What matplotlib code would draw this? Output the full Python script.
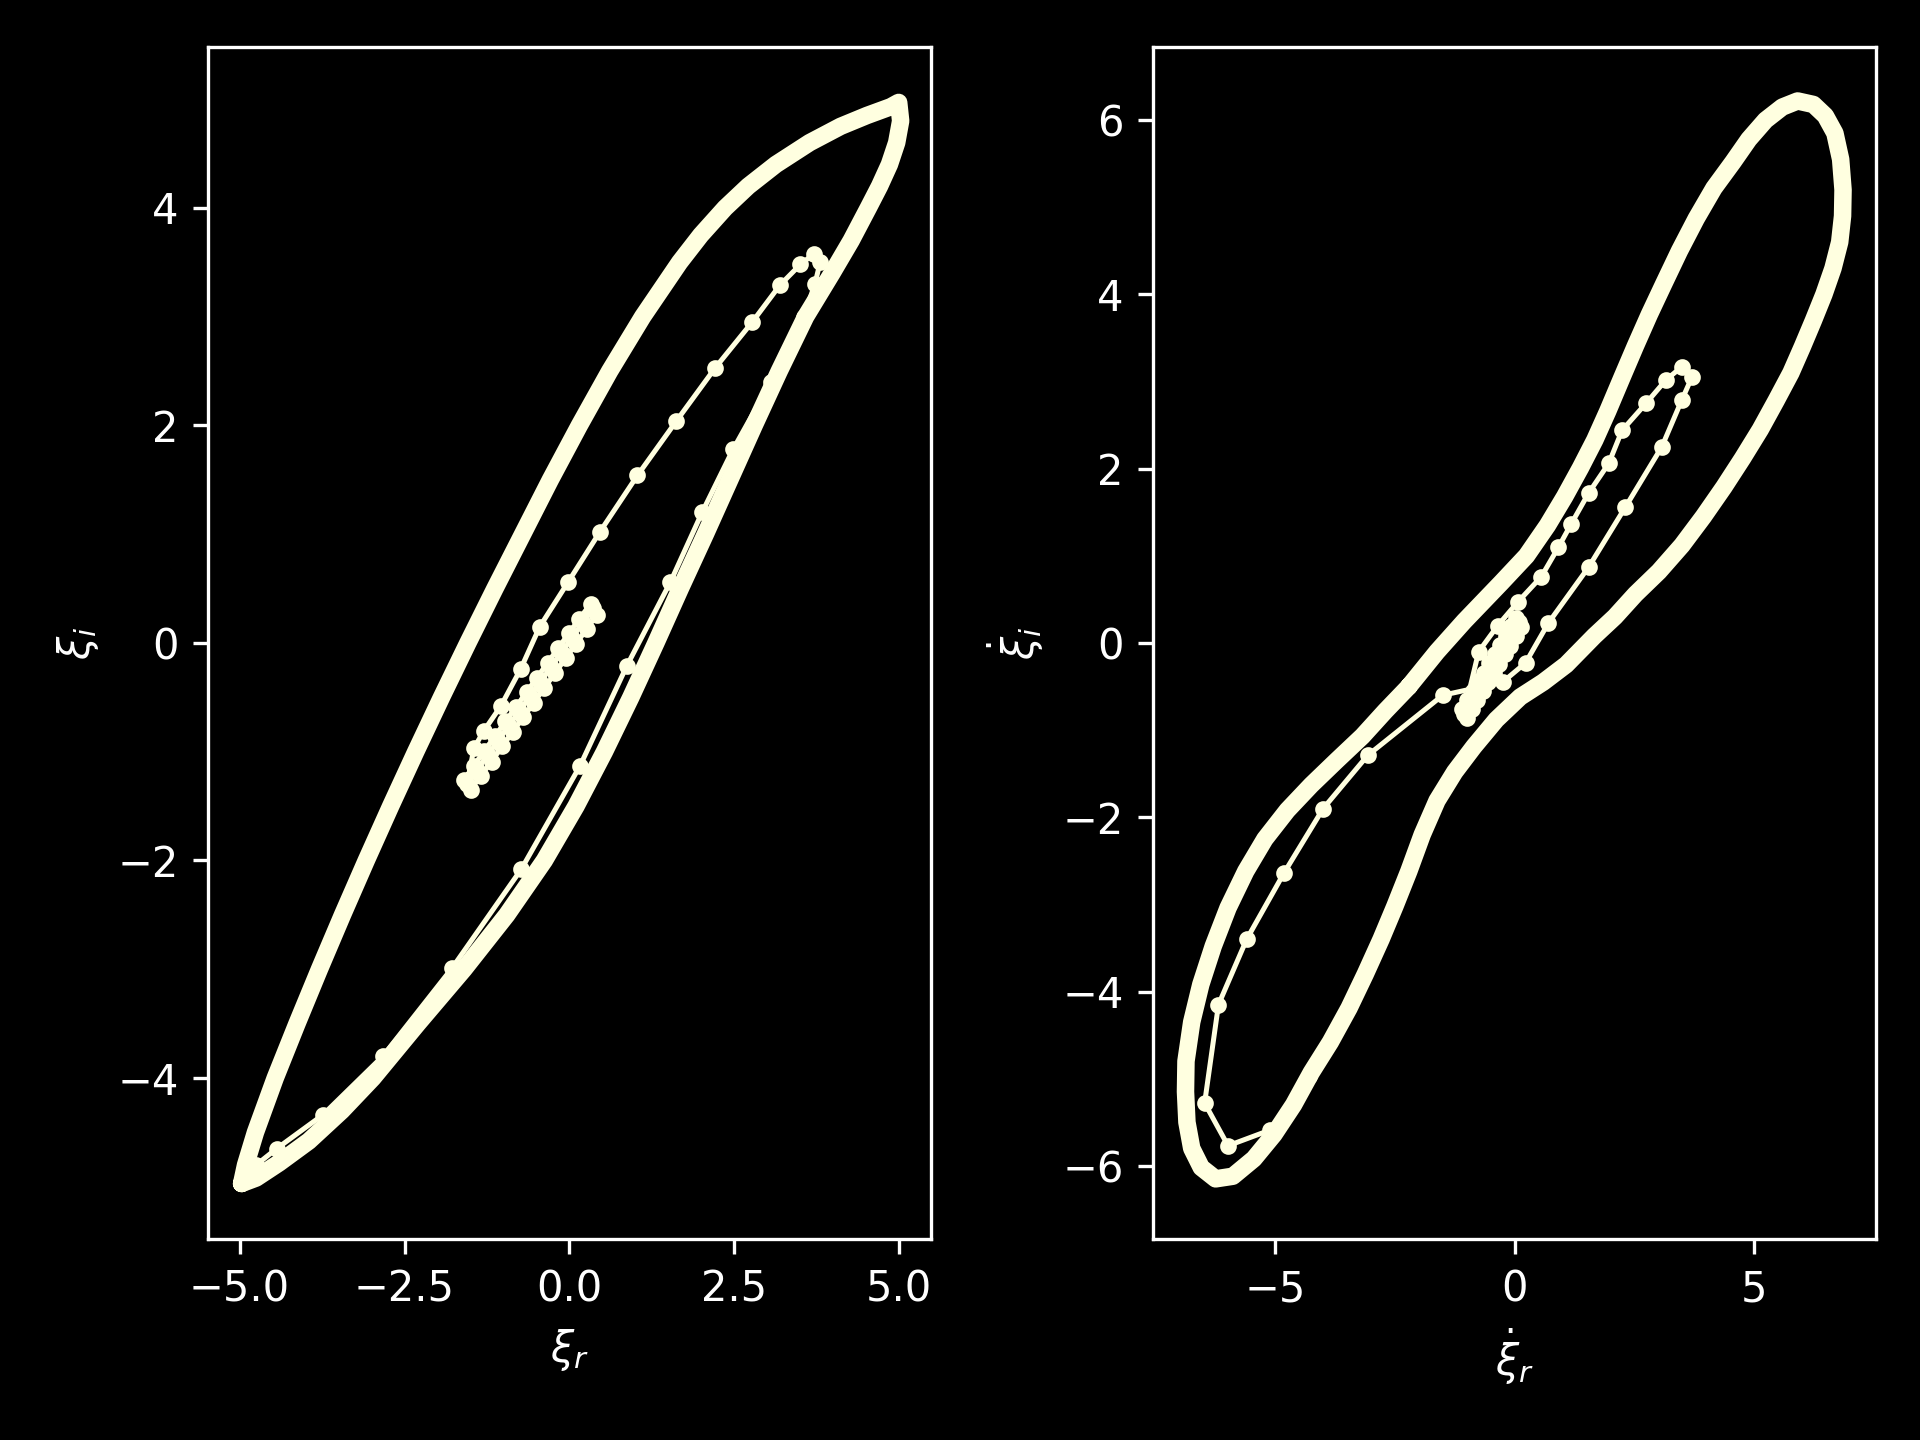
import matplotlib
matplotlib.use("Agg")
import matplotlib.pyplot as plt

plt.style.use("dark_background")

LINE_COLOR = "lightyellow"

# ---- left panel: xi_r vs xi_i ----
# slow start: thin blob of small oscillations (three passes along it)
blob_a_r = [0.42, 0.26, 0.10, -0.06, -0.22, -0.38, -0.54, -0.70, -0.86, -1.02, -1.18, -1.34, -1.50]
blob_a_i = [0.26, 0.13, -0.01, -0.14, -0.28, -0.41, -0.55, -0.68, -0.82, -0.95, -1.09, -1.22, -1.35]
blob_b_r = [-1.60, -1.45, -1.29, -1.13, -0.97, -0.81, -0.65, -0.49, -0.33, -0.17, -0.01, 0.15, 0.32]
blob_b_i = [-1.26, -1.13, -0.99, -0.86, -0.72, -0.59, -0.45, -0.32, -0.18, -0.05, 0.09, 0.22, 0.36]
blob_c_r = [0.36, 0.20, 0.04, -0.12, -0.28, -0.44, -0.60, -0.76, -0.92, -1.08, -1.24, -1.40, -1.55]
blob_c_i = [0.32, 0.18, 0.05, -0.09, -0.22, -0.36, -0.49, -0.63, -0.76, -0.90, -1.03, -1.17, -1.30]

# first big swing out of the blob
swing_r = [-1.45, -1.30, -1.04, -0.74, -0.45, -0.02, 0.46, 1.03, 1.62, 2.21, 2.77,
           3.19, 3.50, 3.71, 3.80, 3.72, 3.55, 3.05, 2.48, 2.01, 1.53, 0.87, 0.16, -0.73,
           -1.78, -2.83, -3.74, -4.44, -4.75, -4.95]
swing_i = [-0.97, -0.81, -0.58, -0.24, 0.15, 0.56, 1.02, 1.54, 2.04, 2.53, 2.95,
           3.29, 3.48, 3.58, 3.50, 3.30, 3.00, 2.40, 1.78, 1.20, 0.56, -0.21, -1.13, -2.08,
           -2.99, -3.80, -4.34, -4.65, -4.80, -4.95]

# settled limit cycle (up the left side, down the right side)
cycle_r = [-4.97, -4.91, -4.76, -4.46, -4.13, -3.79, -3.44, -3.08, -2.71, -2.33, -1.94, -1.54,
           -1.13, -0.71, -0.29, 0.15, 0.61, 1.11, 1.67, 1.99, 2.36, 2.71, 3.13, 3.64, 4.11,
           4.51, 4.87, 4.99,
           5.02, 4.96, 4.85, 4.70, 4.53, 4.27, 3.98, 3.58, 3.18, 2.80, 2.43, 2.06, 1.68, 1.31,
           0.93, 0.53, 0.10, -0.38, -0.95, -1.60, -2.30, -2.98, -3.45, -3.95, -4.40, -4.75, -4.97]
cycle_i = [-4.97, -4.80, -4.50, -4.00, -3.50, -3.00, -2.50, -2.00, -1.50, -1.00, -0.50, 0.00,
           0.50, 1.00, 1.50, 2.00, 2.50, 3.00, 3.50, 3.75, 4.00, 4.20, 4.40, 4.60, 4.75,
           4.85, 4.93, 4.97,
           4.80, 4.60, 4.40, 4.20, 4.00, 3.70, 3.40, 3.00, 2.50, 2.00, 1.50, 1.00, 0.50, 0.00,
           -0.50, -1.00, -1.50, -2.00, -2.50, -3.00, -3.50, -4.00, -4.30, -4.58, -4.78, -4.92, -4.97]

# ---- right panel: d/dt xi_r vs d/dt xi_i ----
dblob_a_r = [0.14, 0.03, -0.09, -0.20, -0.32, -0.43, -0.55, -0.66, -0.78, -0.89, -1.00]
dblob_a_i = [0.18, 0.08, -0.03, -0.13, -0.24, -0.34, -0.45, -0.55, -0.66, -0.76, -0.86]
dblob_b_r = [-1.10, -0.99, -0.87, -0.76, -0.64, -0.53, -0.41, -0.30, -0.18, -0.07, 0.04]
dblob_b_i = [-0.76, -0.65, -0.55, -0.44, -0.34, -0.23, -0.13, -0.02, 0.08, 0.19, 0.29]
dblob_c_r = [0.09, -0.02, -0.14, -0.25, -0.37, -0.48, -0.60, -0.71, -0.83, -0.94, -1.06]
dblob_c_i = [0.24, 0.13, 0.03, -0.08, -0.18, -0.29, -0.39, -0.50, -0.60, -0.71, -0.81]

dswing_r = [-0.75, -0.35, 0.07, 0.56, 0.92, 1.19, 1.55, 1.97, 2.25, 2.75, 3.17, 3.50, 3.71,
            3.50, 3.08, 2.32, 1.55, 0.71, 0.23, -0.25, -1.50, -3.07, -4.00, -4.82, -5.60,
            -6.19, -6.48, -5.99, -5.11, -4.30]
dswing_i = [-0.10, 0.20, 0.47, 0.76, 1.10, 1.37, 1.72, 2.06, 2.44, 2.75, 3.02, 3.17, 3.05,
            2.79, 2.25, 1.56, 0.87, 0.23, -0.23, -0.45, -0.60, -1.29, -1.90, -2.64, -3.40,
            -4.15, -5.28, -5.77, -5.59, -4.97]

dcycle_r = [-2.21, -1.62, -1.05, -0.28, 0.25, 0.69, 1.05, 1.38, 1.68, 1.95, 2.25, 2.53, 2.82,
            3.12, 3.45, 3.80, 4.17, 4.57, 4.90, 5.25, 5.60, 5.92, 6.25, 6.50, 6.70, 6.82, 6.87,
            6.86, 6.80, 6.66, 6.47, 6.25, 6.02, 5.78, 5.47, 5.14, 4.77, 4.38, 3.95, 3.50, 3.02,
            2.53, 2.10, 1.67, 1.08, 0.60, 0.12, -0.38, -0.85, -1.25, -1.62, -1.93, -2.21, -2.50,
            -2.79, -3.12, -3.46, -3.85, -4.25, -4.62, -5.03, -5.45, -5.89, -6.25, -6.55, -6.75,
            -6.85, -6.88, -6.87, -6.75, -6.56, -6.30, -5.99, -5.62, -5.22, -4.75, -4.25, -3.72,
            -3.18, -2.70, -2.21]
dcycle_i = [-0.50, -0.10, 0.25, 0.69, 1.00, 1.35, 1.68, 2.01, 2.33, 2.66, 3.05, 3.41, 3.77,
            4.12, 4.50, 4.87, 5.22, 5.52, 5.78, 6.00, 6.15, 6.22, 6.18, 6.05, 5.85, 5.55, 5.20,
            4.90, 4.60, 4.30, 4.00, 3.70, 3.40, 3.10, 2.78, 2.45, 2.12, 1.79, 1.45, 1.12, 0.82,
            0.56, 0.30, 0.08, -0.25, -0.45, -0.62, -0.88, -1.19, -1.48, -1.81, -2.20, -2.62, -3.02,
            -3.40, -3.80, -4.19, -4.58, -4.93, -5.30, -5.64, -5.92, -6.12, -6.15, -6.02, -5.80,
            -5.50, -5.15, -4.80, -4.35, -3.92, -3.48, -3.04, -2.62, -2.25, -1.92, -1.63, -1.35,
            -1.07, -0.78, -0.50]

fig, (ax1, ax2) = plt.subplots(1, 2, figsize=(6.4, 4.8), dpi=300)
fig.subplots_adjust(left=0.1083, right=0.9771, bottom=0.1396, top=0.9674, wspace=0.307)

panels = [
    (ax1, cycle_r, cycle_i,
     blob_a_r + blob_b_r + blob_c_r + swing_r,
     blob_a_i + blob_b_i + blob_c_i + swing_i,
     r"$\xi_r$", r"$\xi_i$", (-5.48, 5.48), (-5.48, 5.48)),
    (ax2, dcycle_r, dcycle_i,
     dblob_a_r + dblob_b_r + dblob_c_r + dswing_r,
     dblob_a_i + dblob_b_i + dblob_c_i + dswing_i,
     r"$\dot{\xi}_r$", r"$\dot{\xi}_i$", (-7.56, 7.56), (-6.84, 6.84)),
]

for ax, cx, cy, tx, ty, xl, yl, xlim, ylim in panels:
    ax.plot(cx, cy, "-", color=LINE_COLOR, lw=4.2,
            solid_joinstyle="round", solid_capstyle="round")
    ax.plot(tx, ty, ".-", color=LINE_COLOR, lw=1.2)
    ax.set_xlabel(xl)
    ax.set_ylabel(yl)
    ax.set_xlim(*xlim)
    ax.set_ylim(*ylim)

fig.savefig("out.png", dpi=300)
